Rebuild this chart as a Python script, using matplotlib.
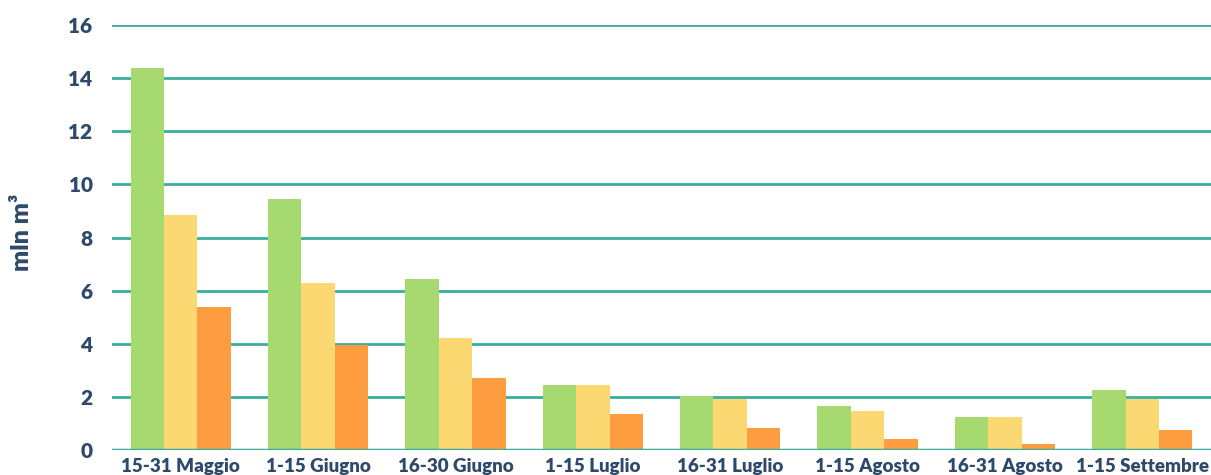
import numpy as np
import matplotlib.pyplot as plt

plt.rcParams['font.family'] = ['Lato', 'DejaVu Sans']

# periodi e valori (mln m3)
periodi = ['15-31 Maggio', '1-15 Giugno', '16-30 Giugno', '1-15 Luglio',
           '16-31 Luglio', '1-15 Agosto', '16-31 Agosto', '1-15 Settembre']
serie_verde = [14.4, 9.45, 6.45, 2.45, 2.05, 1.67, 1.25, 2.27]
serie_gialla = [8.85, 6.28, 4.2, 2.45, 1.93, 1.48, 1.25, 1.93]
serie_arancio = [5.4, 3.95, 2.72, 1.37, 0.84, 0.42, 0.24, 0.76]

testo = '#2E4A6B'
griglia = '#3AAFA0'

fig = plt.figure(figsize=(12.11, 4.75), dpi=100)
ax = fig.add_axes([112 / 1211, 25 / 475, 1099 / 1211, 425 / 475])

x = np.arange(len(periodi))
w = 0.243
ax.bar(x - w, serie_verde, w, color='#A6D96F', zorder=3)
ax.bar(x, serie_gialla, w, color='#FBD872', zorder=3)
ax.bar(x + w, serie_arancio, w, color='#FD9D40', zorder=3)

ax.set_xlim(-0.5, len(periodi) - 0.5)
ax.set_ylim(0, 16)
ax.set_yticks(range(0, 17, 2))
ax.yaxis.grid(True, color=griglia, linewidth=2, zorder=0)
ax.set_axisbelow(True)
for s in ax.spines.values():
    s.set_visible(False)
ax.axhline(0, color=griglia, linewidth=2.5, zorder=4)

ax.set_xticks(x)
ax.set_xticklabels(periodi, fontsize=13.5, fontweight='heavy', color=testo)
ax.tick_params(axis='x', length=0, pad=6)
ax.tick_params(axis='y', length=0, pad=14, labelsize=15, labelcolor=testo)
for t in ax.get_yticklabels():
    t.set_fontweight('heavy')

fig.text(22 / 1211, 1 - 232 / 475, 'mln m³', rotation=90, ha='center', va='center',
         fontsize=18, fontweight='heavy', color=testo)

fig.savefig('out.png', dpi=100)
